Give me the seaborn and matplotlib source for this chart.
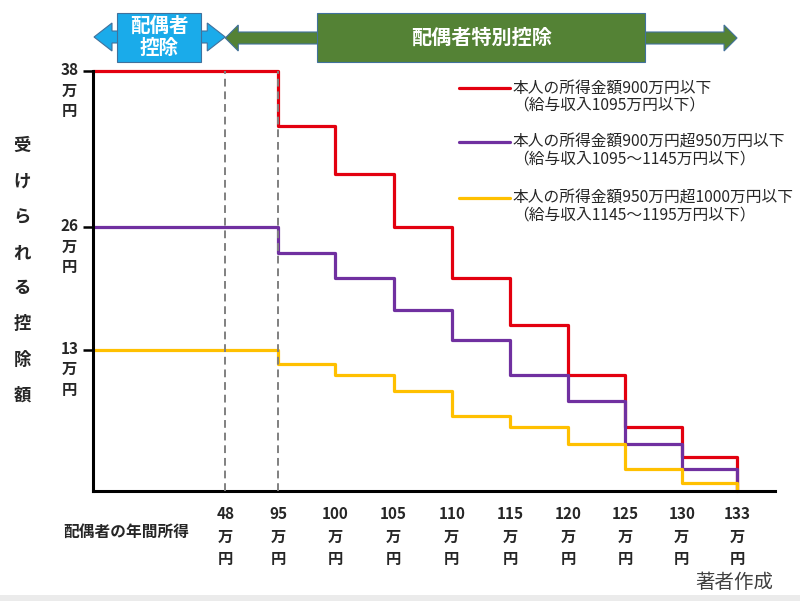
import numpy as np
import pandas as pd
import matplotlib
matplotlib.use("Agg")
import matplotlib.pyplot as plt
import matplotlib.patches as mpatches
from matplotlib.lines import Line2D
from matplotlib import transforms
import seaborn as sns

# 配偶者の年間所得 (万円) at which each step starts, and deduction (万円)
INCOME = [0, 95, 100, 105, 110, 115, 120, 125, 130, 133]
DED_900 = [38, 36, 31, 26, 21, 16, 11, 6, 3, 0]
DED_950 = [26, 24, 21, 18, 14, 11, 8, 4, 2, 0]
DED_1000 = [13, 12, 11, 9, 7, 6, 4, 2, 1, 0]
SERIES = ["900", "950", "1000"]
LEGEND_1 = ["本人の所得金額900万円以下",
            "本人の所得金額900万円超950万円以下",
            "本人の所得金額950万円超1000万円以下"]
LEGEND_2 = ["（給与収入1095万円以下）",
            "（給与収入1095～1145万円以下）",
            "（給与収入1145～1195万円以下）"]
COLORS = ["#E3000F", "#7030A0", "#FFC000"]
X_TICKS = [48, 95, 100, 105, 110, 115, 120, 125, 130, 133]
Y_TICKS = [13, 26, 38]
LIMITS = [48, 95]  # 配偶者控除 / 配偶者特別控除 boundaries

# the source diagram is not drawn to scale -> piecewise scales
X_KNOTS = [0, 48, 95, 100, 105, 110, 115, 120, 125, 130, 133, 136]
X_SLOTS = [0, 2.3, 3.22, 4.21, 5.23, 6.24, 7.25, 8.26, 9.25, 10.24, 11.2, 11.86]
Y_KNOTS = [0, 1, 2, 3, 4, 6, 7, 8, 9, 11, 12, 13, 14, 16, 18, 21, 24, 26, 31, 36, 38]
Y_SLOTS = [0, 8, 22, 34, 46.5, 63.5, 75, 90, 100, 115.5, 127, 141, 151, 166, 181,
           212.5, 237, 263.5, 316, 364, 419]

df = pd.concat([pd.DataFrame({"income": INCOME, "deduction": d, "series": s})
                for d, s in zip([DED_900, DED_950, DED_1000], SERIES)])

sns.set_style("white")
plt.rcParams["font.family"] = ["Noto Sans CJK JP", "DejaVu Sans"]

W, H = 800, 601
fig = plt.figure(figsize=(8, 6.01), dpi=100)
fx = lambda px: px / W
fy = lambda py: 1 - py / H
ax = fig.add_axes([fx(93), fy(491), fx(775 - 93), (491 - 71) / H])

sns.lineplot(data=df, x="income", y="deduction", hue="series", hue_order=SERIES,
             palette=COLORS, drawstyle="steps-post", linewidth=2.3, legend=False,
             estimator=None, clip_on=False, ax=ax)

ax.set_xscale("function", functions=(lambda v: np.interp(v, X_KNOTS, X_SLOTS),
                                      lambda s: np.interp(s, X_SLOTS, X_KNOTS)))
ax.set_yscale("function", functions=(lambda v: np.interp(v, Y_KNOTS, Y_SLOTS),
                                      lambda s: np.interp(s, Y_SLOTS, Y_KNOTS)))
ax.set_xlim(0, 136)
ax.set_ylim(0, 38)

ax.vlines(LIMITS, 0, 38, colors="#808080", linestyles=(0, (4, 2.5)), linewidth=1.4,
          zorder=5, clip_on=False)

for side in ["top", "right"]:
    ax.spines[side].set_visible(False)
for side in ["left", "bottom"]:
    ax.spines[side].set_color("black")
    ax.spines[side].set_linewidth(2.2)

ax.set_xticks(X_TICKS, labels=[f"{v}\n万\n円" for v in X_TICKS],
              fontsize=11, fontweight="bold", linespacing=1.5)
ax.xaxis.set_minor_locator(matplotlib.ticker.NullLocator())
ax.yaxis.set_minor_locator(matplotlib.ticker.NullLocator())
ax.tick_params(axis="x", length=0, pad=11)
ax.set_yticks(Y_TICKS)
ax.tick_params(axis="y", left=True, length=7, width=1.8, color="black", labelleft=False)
ax.set_xlabel("")
ax.set_ylabel("")

ytr = transforms.offset_copy(ax.get_yaxis_transform(), fig=fig, x=0, y=9, units="dots")
for v in Y_TICKS:
    ax.text(-0.034, v, f"{v}\n万\n円", transform=ytr, ha="center", va="top",
            fontsize=11, fontweight="bold", linespacing=1.35)

# vertical axis title, one character per row
for i, ch in enumerate("受けられる控除額"):
    fig.text(fx(22), fy(146 + i * 35.6), ch, ha="center", va="center",
             fontsize=12.5, fontweight="bold")
fig.text(fx(126), fy(532), "配偶者の年間所得", ha="center", va="center",
         fontsize=11.3, fontweight="bold")

# legend
for i, (l1, l2, c) in enumerate(zip(LEGEND_1, LEGEND_2, COLORS)):
    y0 = [88, 142, 198][i]
    fig.add_artist(Line2D([fx(459), fx(510)], [fy(y0), fy(y0)], color=c,
                          linewidth=2.3, transform=fig.transFigure))
    fig.text(fx(513), fy(y0), l1, ha="left", va="center", fontsize=11.3)
    fig.text(fx(513), fy(y0 + 17), l2, ha="left", va="center", fontsize=11.3)

# header arrows
def px_of(v):
    return ax.transData.transform([[v, 1]])[0][0]

def double_arrow(x0, x1, yc, hs, hh, hl, color):
    pts = [(x0, yc), (x0 + hl, yc - hh), (x0 + hl, yc - hs), (x1 - hl, yc - hs),
           (x1 - hl, yc - hh), (x1, yc), (x1 - hl, yc + hh), (x1 - hl, yc + hs),
           (x0 + hl, yc + hs), (x0 + hl, yc + hh)]
    fig.add_artist(mpatches.Polygon([(fx(a), fy(b)) for a, b in pts], closed=True,
                                    facecolor=color, edgecolor="#41719C", linewidth=0.8,
                                    transform=fig.transFigure))

def box(xc, w, color, label, size):
    fig.add_artist(mpatches.Rectangle((fx(xc - w / 2), fy(62)), fx(w), (62 - 13) / H,
                                      facecolor=color, edgecolor="#41719C", linewidth=0.8,
                                      transform=fig.transFigure))
    fig.text(fx(xc), fy(37.5), label, ha="center", va="center", color="white",
             fontsize=size, fontweight="bold", linespacing=1.2)

BLUE, GREEN = "#1AABEA", "#548235"
xa, xb, xc = px_of(0), px_of(48), px_of(133)
double_arrow(xb, xc, 38, 6, 13, 13, GREEN)
double_arrow(xa + 1, xb, 37, 6, 14, 18, BLUE)
box((xa + xb) / 2, 84, BLUE, "配偶者\n控除", 14)
box((xb + xc) / 2, 328, GREEN, "配偶者特別控除", 14.5)

fig.text(fx(773), fy(582), "著者作成", ha="right", va="center", fontsize=14,
         color="#404040")
fig.add_artist(mpatches.Rectangle((0, 0), 1, 6 / H, facecolor="#EBEBEB",
                                  edgecolor="none", transform=fig.transFigure))

fig.savefig("out.png", dpi=100)
